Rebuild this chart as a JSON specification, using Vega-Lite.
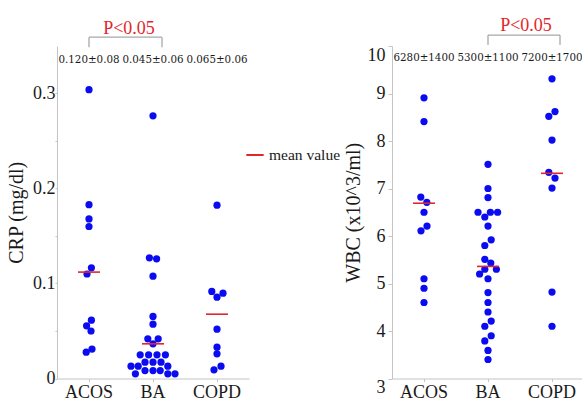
{
  "$schema": "https://vega.github.io/schema/vega-lite/v6.json",
  "padding": {"left": 6, "top": 17, "right": 0, "bottom": 0},
  "background": "white",
  "config": {
    "font": "Liberation Serif",
    "view": {"stroke": null},
    "axis": {
      "grid": false,
      "domainColor": "#c4c4c4",
      "tickColor": "#c4c4c4",
      "labelFont": "Liberation Serif",
      "labelFontSize": 18,
      "labelColor": "#1a1a1a",
      "titleFont": "Liberation Serif",
      "titleFontSize": 20,
      "titleFontWeight": "normal",
      "titleColor": "#1a1a1a"
    },
    "concat": {"spacing": 94}
  },
  "datasets": {
    "crp": [
      {"group": "ACOS", "crp": 0.304, "dx": 0},
      {"group": "ACOS", "crp": 0.183, "dx": 0},
      {"group": "ACOS", "crp": 0.168, "dx": 0},
      {"group": "ACOS", "crp": 0.160, "dx": 0},
      {"group": "ACOS", "crp": 0.1165, "dx": 0.6},
      {"group": "ACOS", "crp": 0.110, "dx": -0.5},
      {"group": "ACOS", "crp": 0.0614, "dx": 0.6},
      {"group": "ACOS", "crp": 0.0555, "dx": -0.6},
      {"group": "ACOS", "crp": 0.050, "dx": 0.5},
      {"group": "ACOS", "crp": 0.0277, "dx": -0.7},
      {"group": "ACOS", "crp": 0.031, "dx": 0.75},
      {"group": "BA", "crp": 0.2765, "dx": 0},
      {"group": "BA", "crp": 0.127, "dx": -0.9},
      {"group": "BA", "crp": 0.126, "dx": 0.9},
      {"group": "BA", "crp": 0.1077, "dx": 0},
      {"group": "BA", "crp": 0.0653, "dx": 0},
      {"group": "BA", "crp": 0.0572, "dx": 0},
      {"group": "BA", "crp": 0.0418, "dx": -1.3},
      {"group": "BA", "crp": 0.0418, "dx": 1.3},
      {"group": "BA", "crp": 0.0365, "dx": 0},
      {"group": "BA", "crp": 0.0249, "dx": -3.2},
      {"group": "BA", "crp": 0.0249, "dx": -1.1},
      {"group": "BA", "crp": 0.0249, "dx": 1.0},
      {"group": "BA", "crp": 0.0249, "dx": 3.1},
      {"group": "BA", "crp": 0.0172, "dx": -2},
      {"group": "BA", "crp": 0.0172, "dx": 0},
      {"group": "BA", "crp": 0.0172, "dx": 2},
      {"group": "BA", "crp": 0.013, "dx": -5.5},
      {"group": "BA", "crp": 0.013, "dx": -3.7},
      {"group": "BA", "crp": 0.013, "dx": 3.7},
      {"group": "BA", "crp": 0.0084, "dx": -2},
      {"group": "BA", "crp": 0.0084, "dx": 0},
      {"group": "BA", "crp": 0.0084, "dx": 1.8},
      {"group": "BA", "crp": 0.0049, "dx": -4.4},
      {"group": "BA", "crp": 0.0049, "dx": 3.7},
      {"group": "BA", "crp": 0.0049, "dx": 5.5},
      {"group": "COPD", "crp": 0.1825, "dx": 0},
      {"group": "COPD", "crp": 0.0916, "dx": -1.3},
      {"group": "COPD", "crp": 0.0898, "dx": 1.5},
      {"group": "COPD", "crp": 0.0856, "dx": 0},
      {"group": "COPD", "crp": 0.0519, "dx": 0},
      {"group": "COPD", "crp": 0.033, "dx": 0},
      {"group": "COPD", "crp": 0.026, "dx": 0},
      {"group": "COPD", "crp": 0.013, "dx": 1},
      {"group": "COPD", "crp": 0.0091, "dx": -0.75}
    ],
    "wbc": [
      {"group": "ACOS", "wbc": 8.91, "dx": 0},
      {"group": "ACOS", "wbc": 8.41, "dx": 0},
      {"group": "ACOS", "wbc": 6.82, "dx": -0.8},
      {"group": "ACOS", "wbc": 6.71, "dx": 0.7},
      {"group": "ACOS", "wbc": 6.50, "dx": 0},
      {"group": "ACOS", "wbc": 6.21, "dx": 0.75},
      {"group": "ACOS", "wbc": 6.11, "dx": -0.75},
      {"group": "ACOS", "wbc": 5.10, "dx": 0},
      {"group": "ACOS", "wbc": 4.90, "dx": 0},
      {"group": "ACOS", "wbc": 4.60, "dx": 0},
      {"group": "BA", "wbc": 7.51, "dx": 0},
      {"group": "BA", "wbc": 7.00, "dx": 0},
      {"group": "BA", "wbc": 6.81, "dx": 0},
      {"group": "BA", "wbc": 6.50, "dx": -2.5},
      {"group": "BA", "wbc": 6.50, "dx": 0.6},
      {"group": "BA", "wbc": 6.50, "dx": 2.4},
      {"group": "BA", "wbc": 6.40, "dx": -0.8},
      {"group": "BA", "wbc": 6.21, "dx": 0},
      {"group": "BA", "wbc": 5.92, "dx": 0.8},
      {"group": "BA", "wbc": 5.80, "dx": -0.8},
      {"group": "BA", "wbc": 5.51, "dx": -0.8},
      {"group": "BA", "wbc": 5.43, "dx": 0.7},
      {"group": "BA", "wbc": 5.30, "dx": -0.8},
      {"group": "BA", "wbc": 5.30, "dx": 2.1},
      {"group": "BA", "wbc": 5.20, "dx": -2.1},
      {"group": "BA", "wbc": 5.10, "dx": 0},
      {"group": "BA", "wbc": 4.81, "dx": 0},
      {"group": "BA", "wbc": 4.60, "dx": 0},
      {"group": "BA", "wbc": 4.40, "dx": 0},
      {"group": "BA", "wbc": 4.21, "dx": 0.8},
      {"group": "BA", "wbc": 4.10, "dx": -0.8},
      {"group": "BA", "wbc": 3.90, "dx": 0.8},
      {"group": "BA", "wbc": 3.79, "dx": -0.8},
      {"group": "BA", "wbc": 3.59, "dx": 0},
      {"group": "BA", "wbc": 3.40, "dx": 0},
      {"group": "COPD", "wbc": 9.31, "dx": 0},
      {"group": "COPD", "wbc": 8.62, "dx": 0.75},
      {"group": "COPD", "wbc": 8.52, "dx": -0.8},
      {"group": "COPD", "wbc": 8.02, "dx": 0},
      {"group": "COPD", "wbc": 7.34, "dx": -0.8},
      {"group": "COPD", "wbc": 7.22, "dx": 0.75},
      {"group": "COPD", "wbc": 7.01, "dx": 0},
      {"group": "COPD", "wbc": 4.82, "dx": 0},
      {"group": "COPD", "wbc": 4.10, "dx": 0}
    ],
    "crp_stats": [
      {"group": "ACOS", "mean": 0.112, "label": "0.120±0.08"},
      {"group": "BA", "mean": 0.0365, "label": "0.045±0.06"},
      {"group": "COPD", "mean": 0.0677, "label": "0.065±0.06"}
    ],
    "wbc_stats": [
      {"group": "ACOS", "mean": 6.69, "label": "6280±1400"},
      {"group": "BA", "mean": 5.36, "label": "5300±1100"},
      {"group": "COPD", "mean": 7.32, "label": "7200±1700"}
    ],
    "crp_sig": [{"from": "ACOS", "to": "BA", "label": "P<0.05"}],
    "wbc_sig": [{"from": "BA", "to": "COPD", "label": "P<0.05"}]
  },
  "hconcat": [
    {
      "width": 192,
      "height": 332.5,
      "layer": [
        {
          "data": {"name": "crp"},
          "mark": {"type": "circle", "size": 52, "opacity": 1, "color": "#0b0bf2"},
          "encoding": {
            "x": {"field": "group", "type": "nominal", "scale": {"domain": ["ACOS", "BA", "COPD"], "paddingInner": 0, "paddingOuter": 0},
                  "axis": {"title": null, "labelAngle": 0, "tickSize": 3, "labelPadding": 2}},
            "xOffset": {"field": "dx", "type": "quantitative", "scale": {"domain": [-8, 8]}},
            "y": {"field": "crp", "type": "quantitative", "scale": {"domain": [0, 0.35], "nice": false, "zero": false},
                  "axis": {"title": "CRP (mg/dl)", "values": [0, 0.05, 0.1, 0.15, 0.2, 0.25, 0.3], "tickSize": 2, "labelPadding": 0, "titlePadding": 6,
                           "labelExpr": "round(datum.value*20)%2==0 ? format(datum.value, '~g') : ''"}}
          }
        },
        {
          "data": {"name": "crp_stats"},
          "mark": {"type": "tick", "orient": "horizontal", "size": 22, "thickness": 1.6, "opacity": 1},
          "encoding": {
            "x": {"field": "group", "type": "nominal"},
            "y": {"field": "mean", "type": "quantitative"},
            "color": {"datum": "mean value", "type": "nominal", "scale": {"range": ["#e3262b"]},
                      "legend": {"title": null, "orient": "none", "legendX": 188, "legendY": 99, "symbolType": "stroke", "symbolStrokeColor": "#e3262b", "symbolStrokeWidth": 2, "symbolSize": 300, "labelFont": "Liberation Serif", "labelFontSize": 15.5, "labelColor": "#1a1a1a"}}
          }
        },
        {
          "data": {"name": "crp_stats"},
          "mark": {"type": "text", "font": "DejaVu Serif", "fontSize": 10.3, "color": "#1a1a1a", "baseline": "middle"},
          "encoding": {
            "x": {"field": "group", "type": "nominal"},
            "y": {"datum": 0.3355, "type": "quantitative"},
            "text": {"field": "label"}
          }
        },
        {
          "data": {"name": "crp_sig"},
          "mark": {"type": "rule", "color": "#a8a8a8", "strokeWidth": 1.3, "x2Offset": 9},
          "encoding": {
            "x": {"field": "from", "type": "nominal"},
            "x2": {"field": "to"},
            "y": {"datum": 0.3593, "type": "quantitative"}
          }
        },
        {
          "data": {"name": "crp_sig"},
          "mark": {"type": "rule", "color": "#a8a8a8", "strokeWidth": 1.3},
          "encoding": {
            "x": {"field": "from", "type": "nominal"},
            "y": {"datum": 0.3593, "type": "quantitative"},
            "y2": {"datum": 0.3487}
          }
        },
        {
          "data": {"name": "crp_sig"},
          "mark": {"type": "rule", "color": "#a8a8a8", "strokeWidth": 1.3, "xOffset": 9},
          "encoding": {
            "x": {"field": "to", "type": "nominal"},
            "y": {"datum": 0.3593, "type": "quantitative"},
            "y2": {"datum": 0.3487}
          }
        },
        {
          "data": {"name": "crp_sig"},
          "mark": {"type": "text", "font": "Liberation Serif", "fontSize": 18, "color": "#e3262b", "baseline": "middle", "xOffset": 40},
          "encoding": {
            "x": {"field": "from", "type": "nominal"},
            "y": {"datum": 0.3684, "type": "quantitative"},
            "text": {"field": "label"}
          }
        }
      ]
    },
    {
      "width": 192,
      "height": 332.5,
      "layer": [
        {
          "data": {"name": "wbc"},
          "mark": {"type": "circle", "size": 52, "opacity": 1, "color": "#0b0bf2"},
          "encoding": {
            "x": {"field": "group", "type": "nominal", "scale": {"domain": ["ACOS", "BA", "COPD"], "paddingInner": 0, "paddingOuter": 0},
                  "axis": {"title": null, "labelAngle": 0, "tickSize": 3, "labelPadding": 2}},
            "xOffset": {"field": "dx", "type": "quantitative", "scale": {"domain": [-8, 8]}},
            "y": {"field": "wbc", "type": "quantitative", "scale": {"domain": [3, 10], "nice": false, "zero": false},
                  "axis": {"title": "WBC (x10^3/ml)", "values": [3, 3.5, 4, 4.5, 5, 5.5, 6, 6.5, 7, 7.5, 8, 8.5, 9, 9.5, 10], "tickSize": 4, "labelPadding": 3, "titlePadding": 4,
                           "labelExpr": "datum.value % 1 == 0 ? format(datum.value, 'd') : ''",
                           "labelBaseline": {"condition": {"test": "datum.value == 3 || datum.value == 10", "value": "top"}, "value": "middle"}}}
          }
        },
        {
          "data": {"name": "wbc_stats"},
          "mark": {"type": "tick", "orient": "horizontal", "size": 22, "thickness": 1.6, "opacity": 1},
          "encoding": {
            "x": {"field": "group", "type": "nominal"},
            "y": {"field": "mean", "type": "quantitative"},
            "color": {"datum": "mean value", "type": "nominal"}
          }
        },
        {
          "data": {"name": "wbc_stats"},
          "mark": {"type": "text", "font": "DejaVu Serif", "fontSize": 10.3, "color": "#1a1a1a", "baseline": "middle"},
          "encoding": {
            "x": {"field": "group", "type": "nominal"},
            "y": {"datum": 9.75, "type": "quantitative"},
            "text": {"field": "label"}
          }
        },
        {
          "data": {"name": "wbc_sig"},
          "mark": {"type": "rule", "color": "#a8a8a8", "strokeWidth": 1.3, "x2Offset": 8},
          "encoding": {
            "x": {"field": "from", "type": "nominal"},
            "x2": {"field": "to"},
            "y": {"datum": 10.231, "type": "quantitative"}
          }
        },
        {
          "data": {"name": "wbc_sig"},
          "mark": {"type": "rule", "color": "#a8a8a8", "strokeWidth": 1.3},
          "encoding": {
            "x": {"field": "from", "type": "nominal"},
            "y": {"datum": 10.231, "type": "quantitative"},
            "y2": {"datum": 10.019}
          }
        },
        {
          "data": {"name": "wbc_sig"},
          "mark": {"type": "rule", "color": "#a8a8a8", "strokeWidth": 1.3, "xOffset": 8},
          "encoding": {
            "x": {"field": "to", "type": "nominal"},
            "y": {"datum": 10.231, "type": "quantitative"},
            "y2": {"datum": 10.019}
          }
        },
        {
          "data": {"name": "wbc_sig"},
          "mark": {"type": "text", "font": "Liberation Serif", "fontSize": 18, "color": "#e3262b", "baseline": "middle", "xOffset": 38},
          "encoding": {
            "x": {"field": "from", "type": "nominal"},
            "y": {"datum": 10.415, "type": "quantitative"},
            "text": {"field": "label"}
          }
        }
      ]
    }
  ]
}
